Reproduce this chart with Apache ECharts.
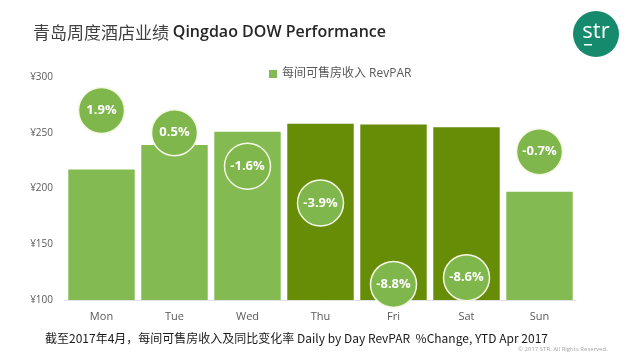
<!DOCTYPE html>
<html>
<head>
<meta charset="utf-8">
<script src="https://cdn.jsdelivr.net/npm/echarts@6/dist/echarts.min.js"></script>
<style>html,body{margin:0;padding:0;background:#fff}#c{width:640px;height:360px}</style>
</head>
<body>
<div id="c"></div>
<script>
const days = ['Mon','Tue','Wed','Thu','Fri','Sat','Sun'];
const revpar = [217, 239, 251, 258, 257.5, 255, 197];
const changePct = [1.9, 0.5, -1.6, -3.9, -8.8, -8.6, -0.7];
const bubbleLevel = [270, 250, 220, 187, 114, 120, 233];
const highlightDays = ['Thu','Fri','Sat'];
const yTicks = [100, 150, 200, 250, 300];

const LIGHT = '#84BA52';
const DARK = '#678D07';
const FONT = '"Open Sans","Noto Sans CJK SC",sans-serif';

const chart = echarts.init(document.getElementById('c'));
chart.setOption({
  backgroundColor: '#ffffff',
  animation: false,
  textStyle: { fontFamily: FONT },
  title: {
    left: 28, top: 19,
    text: '{cn|青岛周度酒店业绩 }{en|Qingdao DOW Performance}',
    textStyle: {
      fontWeight: 'normal',
      rich: {
        cn: { fontSize: 17, color: '#404040', fontWeight: 'normal', fontFamily: '"Noto Sans CJK SC",sans-serif' },
        en: { fontSize: 16, color: '#262626', fontWeight: 600, fontFamily: FONT }
      }
    }
  },
  legend: {
    left: 264, top: 63,
    itemWidth: 8, itemHeight: 8, itemGap: 4,
    data: [{ name: '每间可售房收入 RevPAR', icon: 'rect' }],
    textStyle: { fontSize: 12, color: '#595959', fontFamily: FONT }
  },
  grid: { left: 65, right: 64, top: 77, bottom: 60 },
  xAxis: {
    type: 'category', data: days,
    axisLine: { show: true, lineStyle: { color: '#e3e3e3', width: 1 } },
    axisTick: { show: false },
    axisLabel: { color: '#595959', fontSize: 11, margin: 11 }
  },
  yAxis: {
    type: 'value', min: yTicks[0], max: yTicks[yTicks.length - 1], interval: 50,
    axisLine: { show: false }, axisTick: { show: false },
    splitLine: { show: false },
    axisLabel: { color: '#595959', fontSize: 10, margin: 12, formatter: '¥{value}' }
  },
  series: [
    {
      name: '每间可售房收入 RevPAR',
      type: 'bar',
      barCategoryGap: '9%',
      itemStyle: { color: LIGHT },
      data: revpar.map((v, i) => ({
        value: v,
        itemStyle: { color: highlightDays.includes(days[i]) ? DARK : LIGHT }
      }))
    },
    {
      name: 'change',
      type: 'scatter',
      clip: false,
      z: 5,
      symbolSize: 46,
      itemStyle: { color: '#80B74C', opacity: 1, borderColor: '#F4F8E4', borderWidth: 1.5 },
      emphasis: { disabled: true },
      label: {
        show: true, position: 'inside', color: '#ffffff',
        fontSize: 13, fontWeight: 'bold', fontFamily: FONT,
        formatter: p => changePct[p.dataIndex].toFixed(1) + '%'
      },
      data: bubbleLevel
    }
  ],
  graphic: [
    { type: 'circle', shape: { cx: 596, cy: 34, r: 23 }, style: { fill: '#168A6C' } },
    { type: 'text', x: 596, y: 32, style: { text: 'str', fill: '#ffffff', font: '22px "Open Sans",sans-serif', align: 'center', verticalAlign: 'middle' } },
    { type: 'rect', shape: { x: 584, y: 44, width: 8, height: 1.5 }, style: { fill: '#ffffff' } },
    { type: 'text', x: 45, y: 338, style: { text: '截至2017年4月，每间可售房收入及同比变化率 Daily by Day RevPAR  %Change, YTD Apr 2017', fill: '#1a1a1a', font: '12px "Noto Sans CJK SC",sans-serif', verticalAlign: 'middle' } },
    { type: 'text', x: 518, y: 349, style: { text: '© 2017 STR. All Rights Reserved.', fill: '#a6a6a6', font: '6px "Open Sans",sans-serif', verticalAlign: 'middle' } }
  ]
});
</script>
</body>
</html>
